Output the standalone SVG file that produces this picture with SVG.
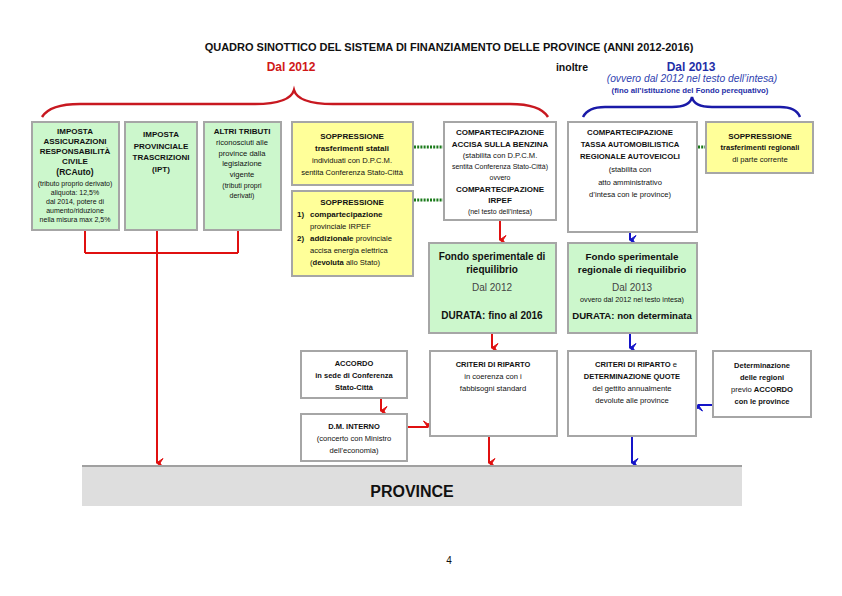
<svg xmlns="http://www.w3.org/2000/svg" width="842" height="596" viewBox="0 0 842 596">
<defs>
<style>
text{font-family:"Liberation Sans",Arial,sans-serif;fill:#111;text-anchor:middle}
.b{font-weight:bold}
.t8{font-size:8px}
.t75{font-size:7.5px}
.t7{font-size:7.6px}
.t6{font-size:7px}
.t10{font-size:10px}
.gray{fill:#444}
.box{stroke:#a6a6a6;stroke-width:2}
.g{fill:#ccf7cc}
.y{fill:#ffff99}
.w{fill:#ffffff}
.red{stroke:#e01010;stroke-width:2;fill:none}
.blue{stroke:#1414c8;stroke-width:2;fill:none}
.dot{stroke:#1a7a1a;stroke-width:3;stroke-dasharray:2 1.2;fill:none}
</style>
<marker id="ar" viewBox="0 0 10 10" refX="5" refY="9" markerWidth="10" markerHeight="10" markerUnits="userSpaceOnUse" orient="auto-start-reverse">
<path d="M0.5,3 L5,9.5 L9.5,3 L5,6 Z" fill="#e01010" stroke="#e01010" stroke-width="1"/>
</marker>
<marker id="ab" viewBox="0 0 10 10" refX="5" refY="9" markerWidth="10" markerHeight="10" markerUnits="userSpaceOnUse" orient="auto-start-reverse">
<path d="M0.5,3 L5,9.5 L9.5,3 L5,6 Z" fill="#1414c8" stroke="#1414c8" stroke-width="1"/>
</marker>
</defs>
<rect width="842" height="596" fill="#ffffff"/>

<g id="header">
<text x="449" y="51" class="b" style="font-size:11px">QUADRO SINOTTICO DEL SISTEMA DI FINANZIAMENTO DELLE PROVINCE (ANNI 2012-2016)</text>
<text x="291" y="71" class="b" style="font-size:12px;fill:#d01818">Dal 2012</text>
<text x="572" y="71" class="b" style="font-size:10.5px">inoltre</text>
<text x="691" y="71" class="b" style="font-size:12px;fill:#1f2fa8">Dal 2013</text>
<text x="692" y="82" style="font-size:10.3px;font-style:italic;fill:#2f3fb0">(ovvero dal 2012 nel testo dell’intesa)</text>
<text x="690" y="93" class="b" style="font-size:7.8px;fill:#1f2fa8">(fino all’istituzione del Fondo perequativo)</text>
</g>

<g id="braces">
<path d="M42,117 Q50,104 80,104 L255,104 Q290,104 294,90 Q298,104 333,104 L510,104 Q540,104 548,117" stroke="#c81820" stroke-width="2.5" fill="none"/>
<path d="M583,117 Q588,107 605,107 L672,107 Q690,107 692,97 Q694,107 712,107 L780,107 Q796,107 800,117" stroke="#1a1aa8" stroke-width="2.5" fill="none"/>
</g>

<g id="connectors">
<path class="red" d="M85,230 V253 M238,230 V253 M85,253 H238"/>
<path class="red" d="M157,230 V463" marker-end="url(#ar)"/>
<path class="red" d="M500,220 V240" marker-end="url(#ar)"/>
<path class="red" d="M492,333 V348" marker-end="url(#ar)"/>
<path class="red" d="M489,436 V463" marker-end="url(#ar)"/>
<path class="red" d="M381,398 V411" marker-end="url(#ar)"/>
<path class="red" d="M407,427 H428" marker-end="url(#ar)"/>
<path class="blue" d="M630,232 V240" marker-end="url(#ab)"/>
<path class="blue" d="M630,333 V348" marker-end="url(#ab)"/>
<path class="blue" d="M632,436 V463" marker-end="url(#ab)"/>
<path class="blue" d="M713,405 H698" marker-end="url(#ab)"/>
<path class="dot" d="M414,147 H443 M414,200 H443 M698,147 H706"/>
</g>

<g id="rcauto">
<rect class="box g" x="32" y="122" width="87" height="108"/>
<text x="75" y="134" class="b t8">IMPOSTA</text>
<text x="75" y="144" class="b t8">ASSICURAZIONI</text>
<text x="75" y="154" class="b t8">RESPONSABILITÀ</text>
<text x="75" y="164" class="b t8">CIVILE</text>
<text x="75" y="175" class="b" style="font-size:8.5px">(RCAuto)</text>
<text x="75" y="186" class="t6">(tributo proprio derivato)</text>
<text x="75" y="195" class="t6">aliquota: 12,5%</text>
<text x="75" y="204" class="t6">dal 2014, potere di</text>
<text x="75" y="213" class="t6">aumento/riduzione</text>
<text x="75" y="222" class="t6">nella misura max 2,5%</text>
</g>

<g id="ipt">
<rect class="box g" x="125" y="122" width="72" height="108"/>
<text x="161" y="137" class="b t8">IMPOSTA</text>
<text x="161" y="149" class="b t8">PROVINCIALE</text>
<text x="161" y="160" class="b t8">TRASCRIZIONI</text>
<text x="161" y="172" class="b t8">(IPT)</text>
</g>

<g id="altri">
<rect class="box g" x="204" y="122" width="77" height="108"/>
<text x="242" y="134" class="b t8">ALTRI TRIBUTI</text>
<text x="242" y="145" class="t7">riconosciuti alle</text>
<text x="242" y="156" class="t7">province dalla</text>
<text x="242" y="166" class="t7">legislazione</text>
<text x="242" y="177" class="t7">vigente</text>
<text x="242" y="188" class="t6">(tributi propri</text>
<text x="242" y="198" class="t6">derivati)</text>
</g>

<g id="soppr1">
<rect class="box y" x="292" y="122" width="121" height="63"/>
<text x="352" y="139" class="b t8">SOPPRESSIONE</text>
<text x="352" y="151" class="b t8">trasferimenti statali</text>
<text x="352" y="163" class="t7">individuati con D.P.C.M.</text>
<text x="352" y="175" class="t7">sentita Conferenza Stato-Città</text>
</g>

<g id="soppr2">
<rect class="box y" x="292" y="191" width="121" height="85"/>
<text x="352" y="205" class="b t8">SOPPRESSIONE</text>
<text x="297" y="217" class="b t8" style="text-anchor:start">1)</text>
<text x="310" y="217" class="b t8" style="text-anchor:start">compartecipazione</text>
<text x="310" y="229" class="t7" style="text-anchor:start">provinciale IRPEF</text>
<text x="297" y="241" class="b t8" style="text-anchor:start">2)</text>
<text x="310" y="241" class="t8" style="text-anchor:start"><tspan class="b">addizionale</tspan><tspan style="font-size:7.6px"> provinciale</tspan></text>
<text x="310" y="253" class="t7" style="text-anchor:start">accisa energia elettrica</text>
<text x="310" y="265" class="t7" style="text-anchor:start">(<tspan class="b">devoluta</tspan> allo Stato)</text>
</g>

<g id="accisa">
<rect class="box w" x="444" y="122" width="112" height="98"/>
<text x="500" y="135" class="b t8">COMPARTECIPAZIONE</text>
<text x="500" y="147" class="b t8">ACCISA SULLA BENZINA</text>
<text x="500" y="158" class="t7">(stabilita con D.P.C.M.</text>
<text x="500" y="169" class="t6">sentita Conferenza Stato-Città)</text>
<text x="500" y="180" class="t6">ovvero</text>
<text x="500" y="192" class="b t8">COMPARTECIPAZIONE</text>
<text x="500" y="203" class="b t8">IRPEF</text>
<text x="500" y="214" class="t6">(nel testo dell’intesa)</text>
</g>

<g id="tassa">
<rect class="box w" x="568" y="122" width="129" height="110"/>
<text x="630" y="135" class="b" style="font-size:7.8px">COMPARTECIPAZIONE</text>
<text x="630" y="147" class="b" style="font-size:7.7px">TASSA AUTOMOBILISTICA</text>
<text x="630" y="159" class="b" style="font-size:7.7px">REGIONALE AUTOVEICOLI</text>
<text x="630" y="172" class="t7">(stabilita con</text>
<text x="630" y="185" class="t7">atto amministrativo</text>
<text x="630" y="197" class="t7">d’intesa con le province)</text>
</g>

<g id="soppr3">
<rect class="box y" x="706" y="122" width="107" height="51"/>
<text x="760" y="139" class="b t8">SOPPRESSIONE</text>
<text x="760" y="150" class="b t75">trasferimenti regionali</text>
<text x="760" y="162" class="t7">di parte corrente</text>
</g>

<g id="fondo1">
<rect class="box g" x="429" y="243" width="127" height="90"/>
<text x="492" y="260" class="b t10">Fondo sperimentale di</text>
<text x="492" y="273" class="b t10">riequilibrio</text>
<text x="492" y="291" class="t10 gray">Dal 2012</text>
<text x="492" y="319" class="b t10">DURATA: fino al 2016</text>
</g>

<g id="fondo2">
<rect class="box g" x="568" y="243" width="129" height="90"/>
<text x="632" y="260" class="b" style="font-size:9.8px">Fondo sperimentale</text>
<text x="632" y="273" class="b" style="font-size:9.8px">regionale di riequilibrio</text>
<text x="632" y="291" class="t10 gray">Dal 2013</text>
<text x="632" y="302" style="font-size:7.2px">ovvero dal 2012 nel testo intesa)</text>
<text x="632" y="319" class="b" style="font-size:9.6px">DURATA: non determinata</text>
</g>

<g id="accordo">
<rect class="box w" x="301" y="351" width="106" height="47"/>
<text x="354" y="366" class="b t75">ACCORDO</text>
<text x="354" y="378" class="b t75">in sede di Conferenza</text>
<text x="354" y="390" class="b t75">Stato-Città</text>
</g>

<g id="dm">
<rect class="box w" x="301" y="414" width="106" height="47"/>
<text x="354" y="429" class="b t75">D.M. INTERNO</text>
<text x="354" y="441" class="t7">(concerto con Ministro</text>
<text x="354" y="453" class="t7">dell’economia)</text>
</g>

<g id="criteri1">
<rect class="box w" x="430" y="351" width="127" height="85"/>
<text x="493" y="367" class="b t75">CRITERI DI RIPARTO</text>
<text x="493" y="379" class="t7">in coerenza con i</text>
<text x="493" y="391" class="t7">fabbisogni standard</text>
</g>

<g id="criteri2">
<rect class="box w" x="568" y="351" width="128" height="85"/>
<text x="636" y="367" class="t7"><tspan class="b">CRITERI DI RIPARTO</tspan> e</text>
<text x="632" y="379" class="b t75">DETERMINAZIONE QUOTE</text>
<text x="632" y="391" class="t7">del gettito annualmente</text>
<text x="632" y="403" class="t7">devolute alle province</text>
</g>

<g id="determinazione">
<rect class="box w" x="713" y="351" width="98" height="66"/>
<text x="762" y="368" class="b t75">Determinazione</text>
<text x="762" y="380" class="b t75">delle regioni</text>
<text x="762" y="392" class="t7">previo <tspan class="b">ACCORDO</tspan></text>
<text x="762" y="404" class="b t75">con le province</text>
</g>

<g id="province">
<rect x="82" y="466" width="660" height="40" fill="#dedede"/>
<line x1="82" y1="466" x2="742" y2="466" stroke="#a0a0a0" stroke-width="2"/>
<text x="412" y="497" class="b" style="font-size:16px">PROVINCE</text>
</g>

<text x="449" y="564" style="font-size:10px">4</text>
</svg>
